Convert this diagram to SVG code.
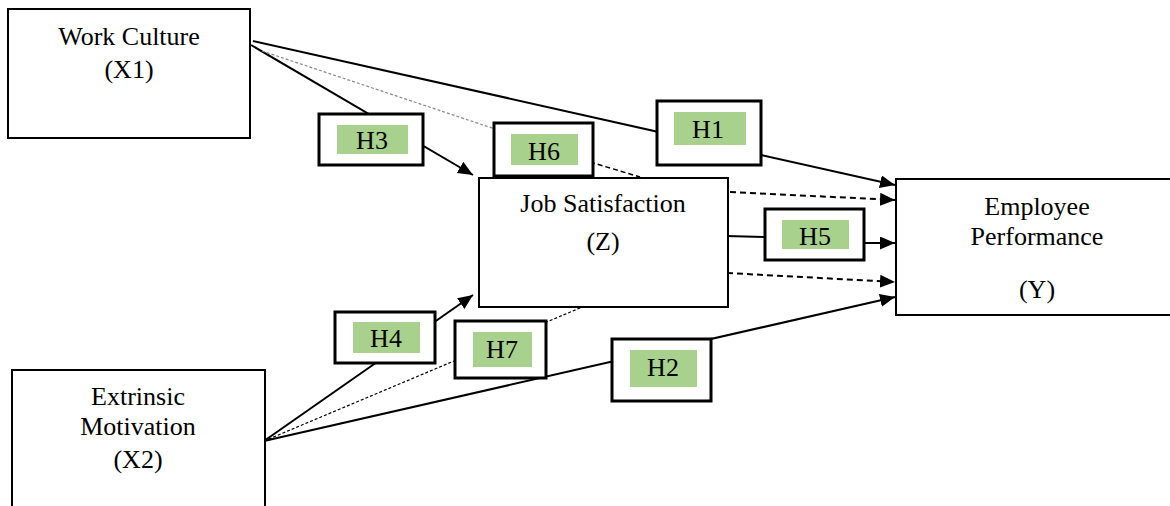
<svg xmlns="http://www.w3.org/2000/svg" width="1170" height="506" viewBox="0 0 1170 506">
<defs>
<style>
.box{fill:#fff;stroke:#000;stroke-width:2}
.lbl{fill:#fff;stroke:#000;stroke-width:3}
.grn{fill:#a9d18e}
.t{font-family:"Liberation Serif","Times New Roman",serif;font-size:26px;fill:#000;text-anchor:middle}
.c{fill:none;stroke:#000;stroke-width:2}
.d{fill:none;stroke:#000;stroke-width:2;stroke-dasharray:6 4}
.g{fill:none;stroke:#888;stroke-width:1.2;stroke-dasharray:3 2}
.k{fill:none;stroke:#000;stroke-width:1.2;stroke-dasharray:3 2}
</style>
<marker id="ah" markerUnits="userSpaceOnUse" markerWidth="16" markerHeight="14" refX="15" refY="6.5" orient="auto">
<path d="M0,0 L15,6.5 L0,13 z" fill="#000"/>
</marker>
</defs>
<rect width="1170" height="506" fill="#fff"/>
<g id="connectors">
<path class="c" d="M253,41 L895,185" marker-end="url(#ah)"/>
<path class="c" d="M251,45 L473,175" marker-end="url(#ah)"/>
<path class="g" d="M262,51 L495,129"/>
<path class="d" d="M590,162 L640,177" style="stroke-width:1.5;stroke-dasharray:5 3"/>
<path class="d" d="M730,192 L895,200" marker-end="url(#ah)"/>
<path class="c" d="M726,236 L765,237"/>
<path class="c" d="M864,243 L895,243" marker-end="url(#ah)"/>
<path class="d" d="M727,273 L895,282" marker-end="url(#ah)"/>
<path class="c" d="M264,441 L473,295" marker-end="url(#ah)"/>
<path class="k" d="M264,441 L587,305"/>
<path class="c" d="M264,441 L895,297" marker-end="url(#ah)"/>
</g>
<g id="work-culture">
<rect class="box" x="8" y="9" width="242" height="129"/>
<text class="t" x="129" y="45">Work Culture</text>
<text class="t" x="129" y="78">(X1)</text>
</g>
<g id="job-satisfaction">
<rect class="box" x="479" y="178" width="249" height="129"/>
<text class="t" x="603" y="212">Job Satisfaction</text>
<text class="t" x="603" y="250">(Z)</text>
</g>
<g id="employee-performance">
<rect class="box" x="896" y="179" width="290" height="136"/>
<text class="t" x="1037" y="215">Employee</text>
<text class="t" x="1037" y="245">Performance</text>
<text class="t" x="1037" y="298">(Y)</text>
</g>
<g id="extrinsic-motivation">
<rect class="box" x="12" y="370" width="253" height="150"/>
<text class="t" x="138" y="405">Extrinsic</text>
<text class="t" x="138" y="435">Motivation</text>
<text class="t" x="138" y="468">(X2)</text>
</g>
<g id="H3">
<rect class="lbl" x="319" y="114" width="104" height="51"/>
<rect class="grn" x="337" y="125" width="71" height="29"/>
<text class="t" x="372" y="149">H3</text>
</g>
<g id="H6">
<rect class="lbl" x="494" y="123" width="99" height="53"/>
<rect class="grn" x="511" y="134" width="67" height="31"/>
<text class="t" x="544" y="160">H6</text>
</g>
<g id="H1">
<rect class="lbl" x="657" y="101" width="104" height="64"/>
<rect class="grn" x="674" y="112" width="72" height="33"/>
<text class="t" x="708" y="138">H1</text>
</g>
<g id="H5">
<rect class="lbl" x="765" y="209" width="99" height="51"/>
<rect class="grn" x="782" y="220" width="67" height="29"/>
<text class="t" x="815" y="245">H5</text>
</g>
<g id="H4">
<rect class="lbl" x="335" y="312" width="100" height="51"/>
<rect class="grn" x="353" y="322" width="67" height="31"/>
<text class="t" x="386" y="347">H4</text>
</g>
<g id="H7">
<rect class="lbl" x="455" y="321" width="91" height="57"/>
<rect class="grn" x="473" y="332" width="59" height="35"/>
<text class="t" x="502" y="358">H7</text>
</g>
<g id="H2">
<rect class="lbl" x="612" y="339" width="99" height="62"/>
<rect class="grn" x="630" y="350" width="67" height="37"/>
<text class="t" x="663" y="376">H2</text>
</g>
</svg>
